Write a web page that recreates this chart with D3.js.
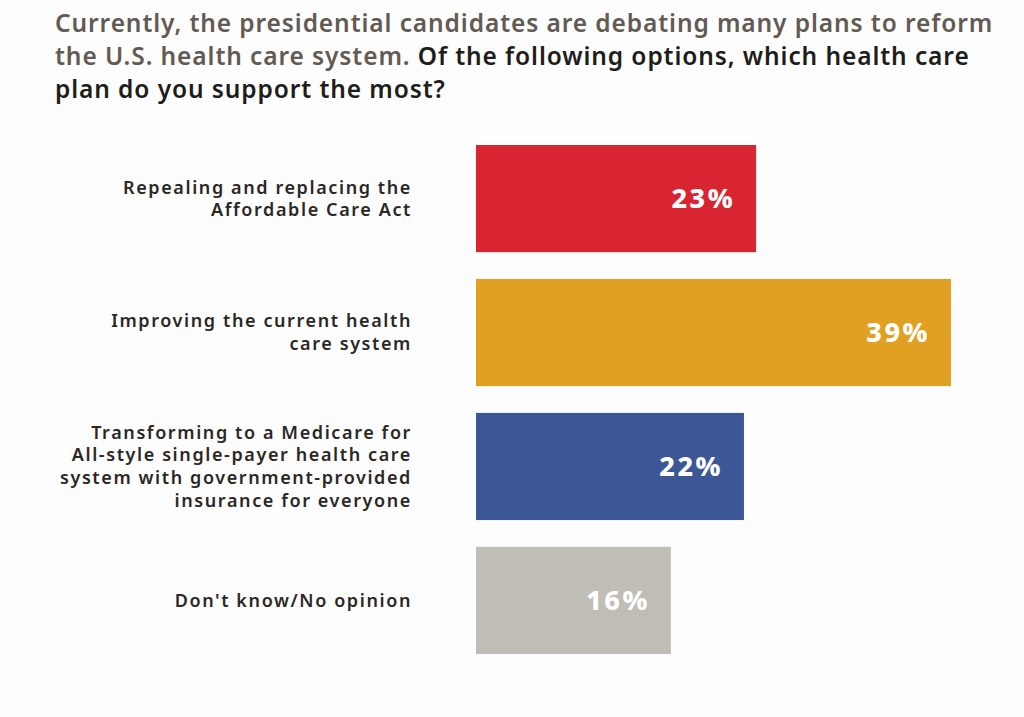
<!DOCTYPE html>
<html>
<head>
<meta charset="utf-8">
<script src="https://cdn.jsdelivr.net/npm/d3@7"></script>
<style>
  body { margin: 0; background: #fdfdfd; }
  svg { display: block; font-family: "Noto Sans", sans-serif; }
</style>
</head>
<body>
<svg id="chart" width="1024" height="717"></svg>
<script>
// data
const categories = [
  ['Repealing and replacing the', 'Affordable Care Act'],
  ['Improving the current health', 'care system'],
  ['Transforming to a Medicare for', 'All-style single-payer health care', 'system with government-provided', 'insurance for everyone'],
  ["Don't know/No opinion"]
];
const values = [23, 39, 22, 16];
const colors = ['#d92532', '#e0a021', '#3b5796', '#c0bdb7'];

const titleLines = [
  [{ t: 'Currently, the presidential candidates are debating many plans to reform', c: '#625a53' }],
  [{ t: 'the U.S. health care system. ', c: '#625a53' }, { t: 'Of the following options, which health care', c: '#1f1d1b' }],
  [{ t: 'plan do you support the most?', c: '#1f1d1b' }]
];

const svg = d3.select('#chart');

// title
const title = svg.append('g');
titleLines.forEach((line, i) => {
  const txt = title.append('text')
    .attr('x', 55)
    .attr('y', 32 + i * 33)
    .attr('font-size', 24.5)
    .attr('font-weight', 600)
    .attr('letter-spacing', 0.9);
  line.forEach(part => {
    txt.append('tspan').attr('fill', part.c).text(part.t);
  });
});

const x = d3.scaleLinear().domain([0, 39]).range([476, 951]);
const y = d3.scaleBand()
  .domain(d3.range(values.length))
  .range([145, 654])
  .paddingInner(0.2)
  .paddingOuter(0);

// bars
svg.append('g')
  .selectAll('rect')
  .data(values)
  .join('rect')
  .attr('x', x(0))
  .attr('y', (d, i) => y(i))
  .attr('width', d => x(d) - x(0))
  .attr('height', y.bandwidth())
  .attr('fill', (d, i) => colors[i]);

// value labels
svg.append('g')
  .selectAll('text')
  .data(values)
  .join('text')
  .attr('x', d => x(d) - 21)
  .attr('y', (d, i) => y(i) + y.bandwidth() / 2)
  .attr('dy', '0.36em')
  .attr('text-anchor', 'end')
  .attr('fill', '#fff')
  .attr('font-size', 27)
  .attr('font-weight', 800)
  .attr('letter-spacing', 2.5)
  .text(d => d + '%');

// category labels
const labels = svg.append('g')
  .selectAll('text')
  .data(categories)
  .join('text')
  .attr('text-anchor', 'end')
  .attr('fill', '#2a2725')
  .attr('font-size', 18)
  .attr('font-weight', 600)
  .attr('letter-spacing', 1.6);

labels.each(function (lines, i) {
  const mid = y(i) + y.bandwidth() / 2;
  const lh = 22.7;
  d3.select(this).selectAll('tspan')
    .data(lines)
    .join('tspan')
    .attr('x', 412)
    .attr('y', (d, j) => mid + (j - (lines.length - 1) / 2) * lh)
    .attr('dy', '0.35em')
    .text(d => d);
});
</script>
</body>
</html>
